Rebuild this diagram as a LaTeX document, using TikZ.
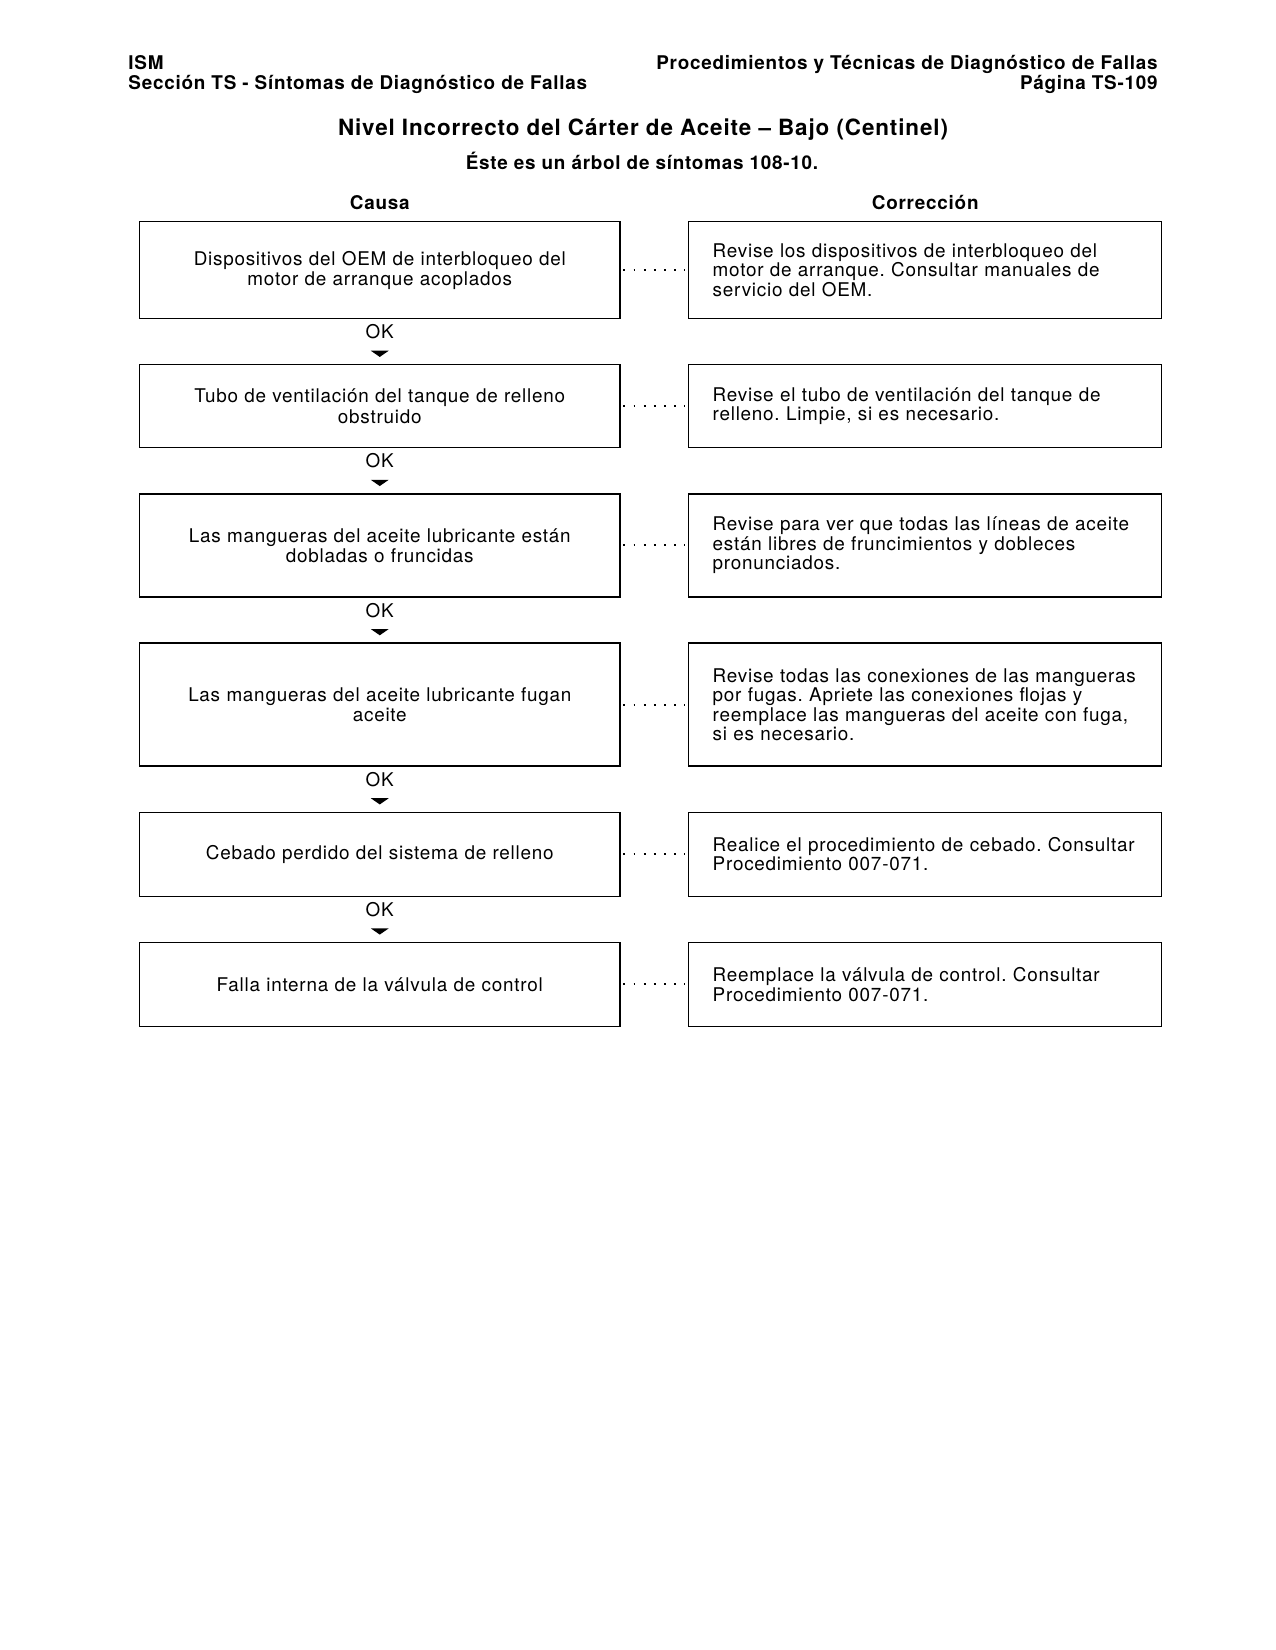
\documentclass[tikz,border=0pt]{standalone}
\usepackage{fontspec}
\setmainfont{TeX Gyre Heros}[LetterSpace=4]
\usetikzlibrary{arrows.meta}
\usetikzlibrary{positioning}
\tikzstyle{cause} = [rectangle, text width=219pt, inner xsep=6.15pt, align=center,
draw=black, line width=0.7pt, font=\fontsize{9.1}{9.7}\selectfont]
\tikzstyle{fix} = [rectangle, text width=204.8pt, inner xsep=11.55pt, align=left,
draw=black, line width=0.7pt, font=\fontsize{9.1}{9.4}\selectfont]
\tikzstyle{ok} = [inner sep=0pt, font=\fontsize{9.1}{9.7}\selectfont]
\tikzstyle{head} = [inner sep=0pt, font=\bfseries\fontsize{9.1}{9.7}\selectfont]
\tikzstyle{arrow} = [line width=1.6pt, -{Triangle[length=3pt, width=8.5pt]},
shorten <=5.6pt, shorten >=3.4pt]
\tikzstyle{dots} = [line width=0.9pt, dash pattern=on 0.9pt off 4pt, shorten <=1.4pt,
shorten >=1.4pt]

\begin{document}
\frenchspacing
\begin{tikzpicture} [x=0.4818pt, y=-0.4818pt, node distance=21.5pt]
    \useasboundingbox (0,0) rectangle (1275,1650);
    \node (hsys) [head, anchor=base west] at (128,70) {ISM};
    \node (hsec) [head, anchor=base west] at (128,90) {Sección TS - Síntomas de Diagnóstico de Fallas};
    \node (hproc) [head, anchor=base east] at (1158,70) {Procedimientos y Técnicas de Diagnóstico de Fallas};
    \node (hpage) [head, anchor=base east] at (1158,90) {Página TS-109};
    \node (title) [head, anchor=base, font=\bfseries\fontsize{10.8}{13}\selectfont] at (643,136)
    {Nivel Incorrecto del Cárter de Aceite – Bajo (Centinel)};
    \node (sub) [head, anchor=base] at (642,170) {Éste es un árbol de síntomas 108-10.};

    \node (cau1) [cause, anchor=north west, minimum height=46.7pt] at (139,221)
    {Dispositivos del OEM de interbloqueo del\\motor de arranque acoplados};
    \node (cau2) [cause, below=of cau1, minimum height=40pt]
    {Tubo de ventilación del tanque de relleno\\obstruido};
    \node (cau3) [cause, below=of cau2, minimum height=49.7pt]
    {Las mangueras del aceite lubricante están\\dobladas o fruncidas};
    \node (cau4) [cause, below=of cau3, minimum height=59.3pt]
    {Las mangueras del aceite lubricante fugan\\aceite};
    \node (cau5) [cause, below=of cau4, minimum height=40.5pt]
    {Cebado perdido del sistema de relleno};
    \node (cau6) [cause, below=of cau5, minimum height=40.5pt]
    {Falla interna de la válvula de control};

    \node (cor1) [fix, right=32.5pt of cau1, minimum height=46.7pt]
    {Revise los dispositivos de interbloqueo del\\motor de arranque. Consultar manuales de\\servicio del OEM.};
    \node (cor2) [fix, right=32.5pt of cau2, minimum height=40pt]
    {Revise el tubo de ventilación del tanque de\\relleno. Limpie, si es necesario.};
    \node (cor3) [fix, right=32.5pt of cau3, minimum height=49.7pt]
    {Revise para ver que todas las líneas de aceite\\están libres de fruncimientos y dobleces\\pronunciados.};
    \node (cor4) [fix, right=32.5pt of cau4, minimum height=59.3pt]
    {Revise todas las conexiones de las mangueras\\por fugas. Apriete las conexiones flojas y\\reemplace las mangueras del aceite con fuga,\\si es necesario.};
    \node (cor5) [fix, right=32.5pt of cau5, minimum height=40.5pt]
    {Realice el procedimiento de cebado. Consultar\\Procedimiento 007-071.};
    \node (cor6) [fix, right=32.5pt of cau6, minimum height=40.5pt]
    {Reemplace la válvula de control. Consultar\\Procedimiento 007-071.};

    \node (causa) [head, above=5.3pt of cau1] {Causa};
    \node (correc) [head, above=5.3pt of cor1] {Corrección};

    \node (ok1) [ok, below=2.4pt of cau1] {OK};
    \node (ok2) [ok, below=2.4pt of cau2] {OK};
    \node (ok3) [ok, below=2.4pt of cau3] {OK};
    \node (ok4) [ok, below=2.4pt of cau4] {OK};
    \node (ok5) [ok, below=2.4pt of cau5] {OK};

    \draw[arrow] (ok1) -- (cau2);
    \draw[arrow] (ok2) -- (cau3);
    \draw[arrow] (ok3) -- (cau4);
    \draw[arrow] (ok4) -- (cau5);
    \draw[arrow] (ok5) -- (cau6);
    \draw[dots] (cau1) -- (cor1);
    \draw[dots] (cau2) -- (cor2);
    \draw[dots] (cau3) -- (cor3);
    \draw[dots] (cau4) -- (cor4);
    \draw[dots] (cau5) -- (cor5);
    \draw[dots] (cau6) -- (cor6);
\end{tikzpicture}
\end{document}
